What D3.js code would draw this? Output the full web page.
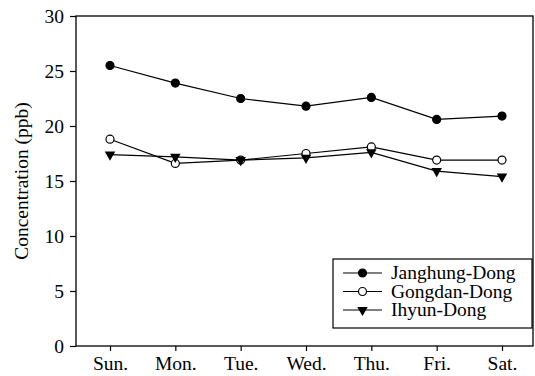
<!DOCTYPE html>
<html>
<head>
<meta charset="utf-8">
<script src="https://cdn.jsdelivr.net/npm/d3@7"></script>
<style>
  html, body { margin: 0; padding: 0; background: #fff; }
</style>
</head>
<body>
<svg id="chart" width="535" height="376"></svg>
<script>
// Weekly mean concentrations at three sites
const days = ["Sun.", "Mon.", "Tue.", "Wed.", "Thu.", "Fri.", "Sat."];
const janghung = [25.5, 23.9, 22.5, 21.8, 22.6, 20.6, 20.9];
const gongdan  = [18.8, 16.6, 16.9, 17.5, 18.1, 16.9, 16.9];
const ihyun    = [17.4, 17.2, 16.9, 17.1, 17.6, 15.9, 15.4];
const yTicks = [0, 5, 10, 15, 20, 25, 30];

const series = [
  { name: "Janghung-Dong", values: janghung, marker: "filled" },
  { name: "Gongdan-Dong",  values: gongdan,  marker: "open" },
  { name: "Ihyun-Dong",    values: ihyun,    marker: "triangle" }
];

const FONT = '"Liberation Serif"';
const FS = 19.5;

const svg = d3.select("#chart");
const plotLeft = 76, plotRight = 533, plotTop = 16, plotBottom = 346;

const x = d3.scalePoint().domain(days).range([110, 502]);
const y = d3.scaleLinear().domain([0, 30]).range([plotBottom, plotTop]);

// Frame
svg.append("rect")
  .attr("x", plotLeft).attr("y", plotTop)
  .attr("width", plotRight - plotLeft).attr("height", plotBottom - plotTop)
  .attr("fill", "none").attr("stroke", "#000").attr("stroke-width", 1.3);

// Axes
const yAxis = svg.append("g")
  .attr("transform", `translate(${plotLeft},0)`)
  .call(d3.axisLeft(y).tickValues(yTicks).tickSize(6).tickPadding(6));
const xAxis = svg.append("g")
  .attr("transform", `translate(0,${plotBottom})`)
  .call(d3.axisBottom(x).tickSize(5).tickPadding(5));
[yAxis, xAxis].forEach(g => {
  g.attr("font-family", null).attr("font-size", null);
  g.select(".domain").remove();
  g.selectAll("line").attr("stroke", "#000").attr("stroke-width", 1.2);
  g.selectAll("text").style("font-family", FONT).style("font-size", FS + "px").attr("fill", "#000");
});

svg.append("text")
  .attr("transform", `translate(28,${(plotTop + plotBottom) / 2}) rotate(-90)`)
  .attr("text-anchor", "middle")
  .style("font-family", FONT).style("font-size", FS + "px")
  .text("Concentration (ppb)");

// Marker drawing
const tri = d3.symbol().type(d3.symbolTriangle).size(48)();
function drawMarker(g, kind, cx, cy) {
  if (kind === "triangle") {
    g.append("path").attr("d", tri)
      .attr("transform", `translate(${cx},${cy}) rotate(180)`)
      .attr("fill", "#000");
  } else {
    g.append("circle").attr("cx", cx).attr("cy", cy).attr("r", 4)
      .attr("fill", kind === "filled" ? "#000" : "#fff")
      .attr("stroke", "#000").attr("stroke-width", 1.2);
  }
}

const line = d3.line().x((d, i) => x(days[i])).y(d => y(d));

series.forEach(s => {
  const g = svg.append("g");
  g.append("path").datum(s.values)
    .attr("d", line).attr("fill", "none")
    .attr("stroke", "#000").attr("stroke-width", 1.2);
  s.values.forEach((v, i) => drawMarker(g, s.marker, x(days[i]), y(v)));
});

// Legend
const lg = svg.append("g").attr("transform", "translate(333,259)");
lg.append("rect").attr("width", 199).attr("height", 69)
  .attr("fill", "#fff").attr("stroke", "#000").attr("stroke-width", 1.2);
series.forEach((s, i) => {
  const cy = 14 + i * 18.5;
  lg.append("line").attr("x1", 10).attr("x2", 49).attr("y1", cy).attr("y2", cy)
    .attr("stroke", "#000").attr("stroke-width", 1.2);
  drawMarker(lg, s.marker, 29.5, cy);
  lg.append("text").attr("x", 58).attr("y", cy + 6)
    .style("font-family", FONT).style("font-size", FS + "px").text(s.name);
});
</script>
</body>
</html>
